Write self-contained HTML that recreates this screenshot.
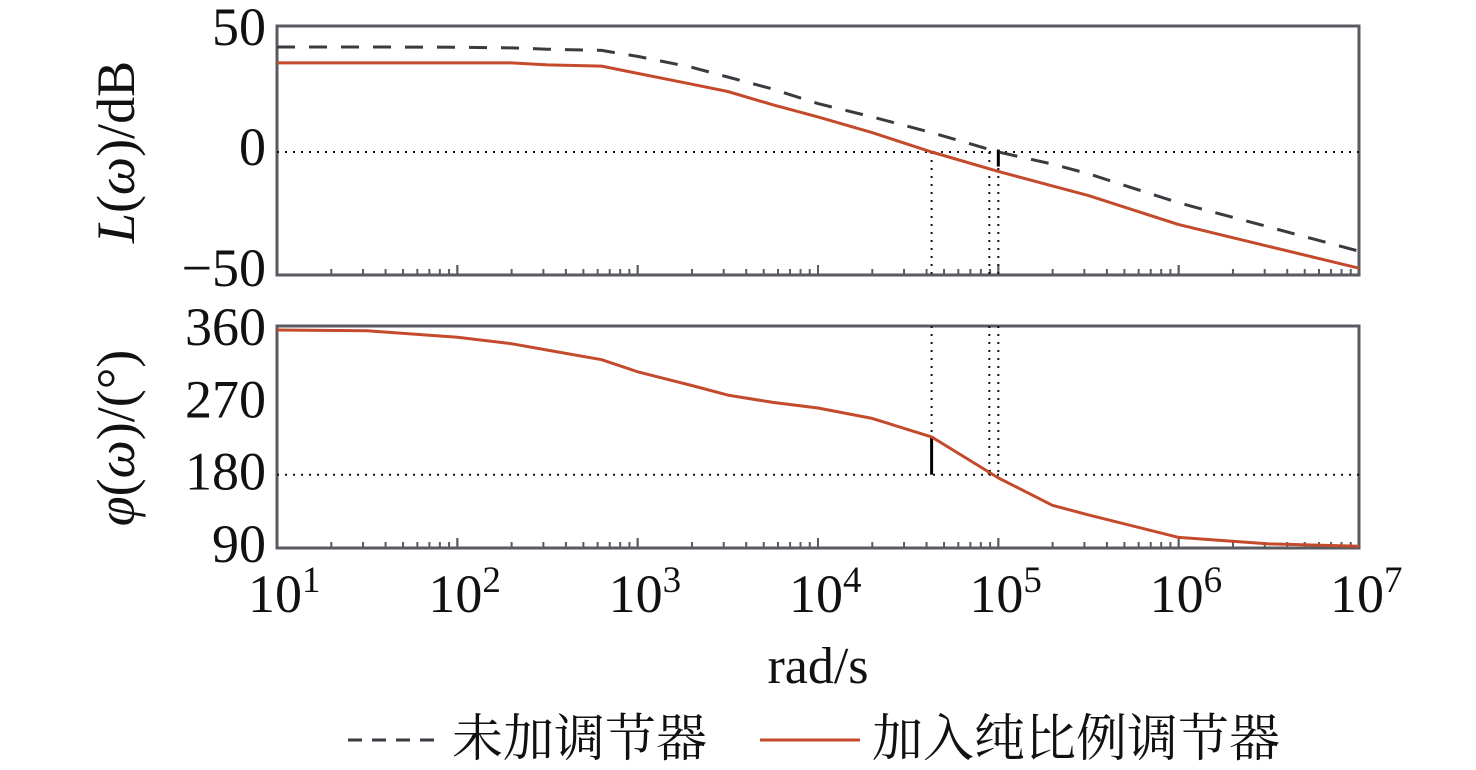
<!DOCTYPE html>
<html><head><meta charset="utf-8"><style>
body{margin:0;background:#fff}
svg{display:block;font-family:"Liberation Serif","Noto Serif CJK SC",serif}
</style></head><body>
<svg id="c" width="1476" height="770"></svg>
<script>
const logW=[1,1.5,2,2.3,2.5,2.8,3,3.3,3.5,3.75,4,4.3,4.63,5,5.3,5.5,6,6.5,7];
const magUncomp=[43.4,43.4,43.3,43,42.5,42,39.5,35,31,26,20,14.5,8,0,-5,-9,-21,-31,-41];
const magComp=[36.8,36.8,36.8,36.8,36,35.5,32.5,28,25,19.5,14.5,8,0,-8,-14,-18,-30,-39,-48];
const phaseComp=[360,359,351,343,335,323,308,291,279,270,263,250,227,176,142,130,102,94,91];
const magTicks=[50,0,-50];
const phaseTicks=[360,270,180,90];
const decades=[1,2,3,4,5,6,7];
const NS="http://www.w3.org/2000/svg",svg=document.getElementById('c');
function el(t,a,p){const e=document.createElementNS(NS,t);for(const k in a)e.setAttribute(k,a[k]);(p||svg).appendChild(e);return e;}
const X0=277,X1=1359;
const xs=l=>X0+(l-1)/6*(X1-X0);
const ym=v=>152-v*2.42;
const yp=v=>330+(360-v)*0.804;
const ax='#5a5b60';
let f=el('rect',{x:X0,y:26,width:X1-X0,height:249,fill:'none',stroke:ax,'stroke-width':3});

f=el('rect',{x:X0,y:326,width:X1-X0,height:222,fill:'none',stroke:ax,'stroke-width':3});

[275,548].forEach(yb=>{for(let d=1;d<7;d++)for(let m=1;m<=10;m++){const l=d+Math.log10(m);const h=(m===1||m===10)?10:6;
el('line',{x1:xs(l),x2:xs(l),y1:yb,y2:yb-h,stroke:ax,'stroke-width':2});}});
const dot={stroke:'#111','stroke-width':2,'stroke-dasharray':'2 6',fill:'none'};
let r=el('line',Object.assign({x1:X0,x2:X1,y1:ym(0),y2:ym(0)},dot));
r=el('line',Object.assign({x1:X0,x2:X1,y1:yp(180),y2:yp(180)},dot));
[4.63,4.95,5].forEach(l=>{el('line',Object.assign({x1:xs(l),x2:xs(l),y1:ym(0),y2:275},dot));el('line',Object.assign({x1:xs(l),x2:xs(l),y1:326,y2:yp(180)},dot));});
el('line',{x1:xs(5),x2:xs(5),y1:ym(1),y2:ym(-6),stroke:'#000','stroke-width':3});
el('line',{x1:xs(4.63),x2:xs(4.63),y1:yp(227),y2:yp(180),stroke:'#000','stroke-width':3});
el('line',{x1:xs(4.95),x2:xs(4.95),y1:yp(186),y2:yp(180),stroke:'#000','stroke-width':3});
function line(arr,yf,attrs,name){const d=logW.map((l,i)=>(i?'L':'M')+xs(l).toFixed(1)+','+yf(arr[i]).toFixed(1)).join('');
const p=el('path',Object.assign({d,fill:'none','stroke-linejoin':'round'},attrs));}
line(magUncomp,ym,{stroke:'#3a3b40','stroke-width':3,'stroke-dasharray':'18 14'},'mag-uncompensated-line');
line(magComp,ym,{stroke:'#c44a2c','stroke-width':3},'mag-proportional-line');
line(phaseComp,yp,{stroke:'#c44a2c','stroke-width':3},'phase-proportional-line');
function txt(x,y,s,a,name){const t=el('text',Object.assign({x,y,'font-size':54,fill:'#111'},a||{}));t.innerHTML=s;return t;}
magTicks.forEach(v=>txt(266,ym(v)+(v===50?14:13),v<0?'−'+(-v):v,{'text-anchor':'end','font-size':54},'mag-tick-label'));
phaseTicks.forEach(v=>txt(266,yp(v)+15,v,{'text-anchor':'end','font-size':54},'phase-tick-label'));
decades.forEach(d=>txt(xs(d)-29,612,'10<tspan dy="-20" font-size="37">'+d+'</tspan>',{'font-size':54},'x-tick-label'));
txt(818,683,'rad/s',{'text-anchor':'middle','font-size':52},'x-axis-title');
txt(0,0,'<tspan font-style="italic">L</tspan>(<tspan font-style="italic">ω</tspan>)/dB',{'text-anchor':'middle',transform:'translate(134,152) rotate(-90)'},'mag-axis-title');
txt(0,0,'<tspan font-style="italic">φ</tspan>(<tspan font-style="italic">ω</tspan>)/(°)',{'text-anchor':'middle',transform:'translate(134,438) rotate(-90)'},'phase-axis-title');
let g=el('g',{});
el('line',{x1:348,x2:440,y1:740,y2:740,stroke:'#3a3b40','stroke-width':3,'stroke-dasharray':'14 10'},g);
let t=el('text',{x:452,y:756,'font-size':51,fill:'#111'},g);t.textContent='未加调节器';
g=el('g',{});
el('line',{x1:760,x2:860,y1:740,y2:740,stroke:'#c44a2c','stroke-width':3},g);
t=el('text',{x:872,y:756,'font-size':51,fill:'#111'},g);t.textContent='加入纯比例调节器';
</script>
</body></html>
